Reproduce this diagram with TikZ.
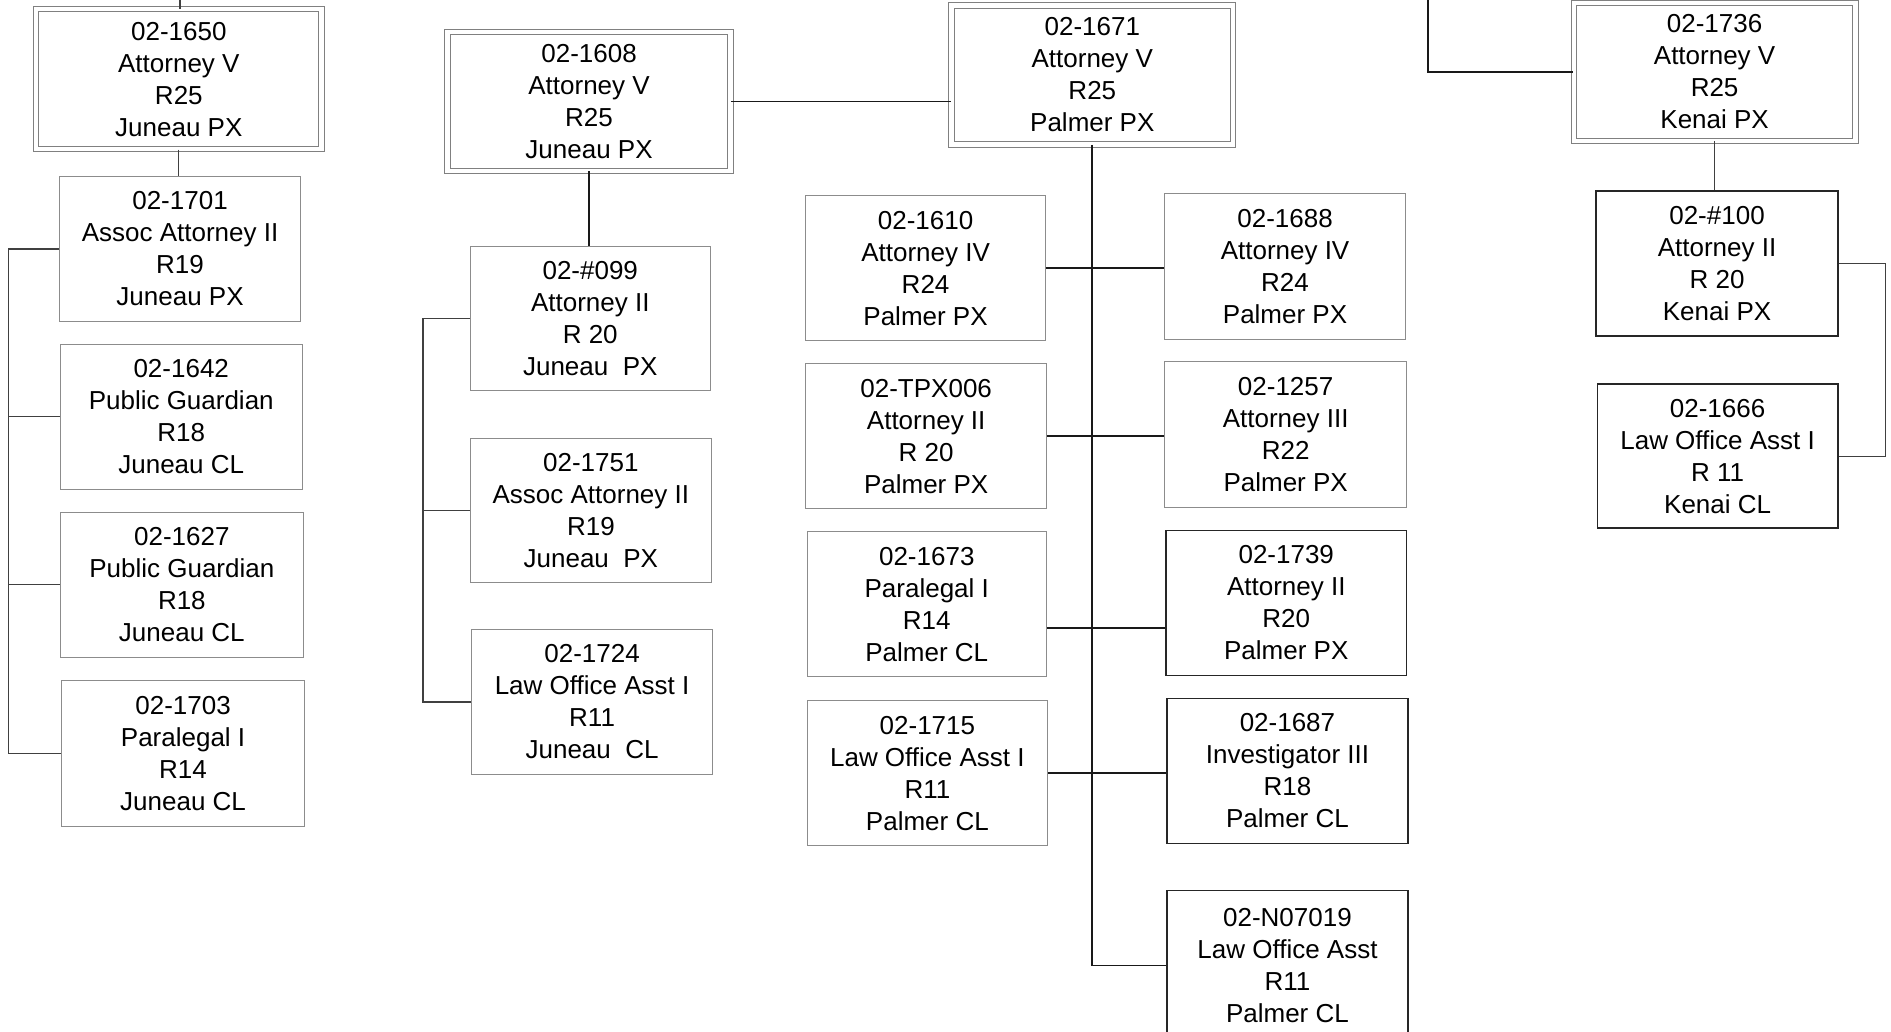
\documentclass[tikz,border=0pt]{standalone}
\usepackage{fontspec}
\setmainfont{Liberation Sans}

\begin{document}
\begin{tikzpicture}[x=0.6042pt,y=-0.6042pt]

\tikzset{post/.style = {shape=rectangle, align=center, inner sep=0pt, font=\fontsize{13}{16}\selectfont}}
\tikzset{dim/.style 2 args = {minimum width=#1*0.6042pt, minimum height=#2*0.6042pt}}
\tikzset{lead/.style = {post, draw=black!50, line width=0.5pt, double=white, double distance=2.2pt}}
\tikzset{staff/.style = {post, draw=black!45, line width=0.5pt}}
\tikzset{solidbox/.style = {post, draw=black!85, line width=0.8pt}}
\tikzset{link/.style = {draw=black!90, line width=0.9pt}}
\tikzset{thinlink/.style = {draw=black!75, line width=0.6pt}}

\useasboundingbox (0,0) rectangle (1565,853.3);

%juneau column
\node[lead, dim={236}{116}] (p1650) at (148,65.5) {02-1650\\Attorney V\\R25\\Juneau PX};
\node[staff, dim={200}{120}] (p1701) at (149,206) {02-1701\\Assoc Attorney II\\R19\\Juneau PX};
\node[staff, dim={200}{120}] (p1642) at (150,345) {02-1642\\Public Guardian\\R18\\Juneau CL};
\node[staff, dim={201}{120}] (p1627) at (150.5,484) {02-1627\\Public Guardian\\R18\\Juneau CL};
\node[staff, dim={201}{121}] (p1703) at (151.5,623.5) {02-1703\\Paralegal I\\R14\\Juneau CL};

%second juneau column
\node[lead, dim={234}{115}] (p1608) at (487.5,84) {02-1608\\Attorney V\\R25\\Juneau PX};
\node[staff, dim={199}{119}] (p099) at (488.5,263.5) {02-\#099\\Attorney II\\R 20\\Juneau~~PX};
\node[staff, dim={200}{119}] (p1751) at (489,422.5) {02-1751\\Assoc Attorney II\\R19\\Juneau~~PX};
\node[staff, dim={200}{120}] (p1724) at (490,581) {02-1724\\Law Office Asst I\\R11\\Juneau~~CL};

%palmer
\node[lead, dim={233}{115}] (p1671) at (904,62) {02-1671\\Attorney V\\R25\\Palmer PX};
\node[staff, dim={198}{120}] (p1610) at (766,222) {02-1610\\Attorney IV\\R24\\Palmer PX};
\node[staff, dim={199}{121}] (p1688) at (1063.5,220.5) {02-1688\\Attorney IV\\R24\\Palmer PX};
\node[staff, dim={199}{120}] (pTPX006) at (766.5,361) {02-TPX006\\Attorney II\\R 20\\Palmer PX};
\node[staff, dim={200}{121}] (p1257) at (1064,359.5) {02-1257\\Attorney III\\R22\\Palmer PX};
\node[staff, dim={198}{120}] (p1673) at (767,500) {02-1673\\Paralegal I\\R14\\Palmer CL};
\node[solidbox, dim={199}{120}] (p1739) at (1064.5,499) {02-1739\\Attorney II\\R20\\Palmer PX};
\node[staff, dim={199}{120}] (p1715) at (767.5,640) {02-1715\\Law Office Asst I\\R11\\Palmer CL};
\node[solidbox, dim={199}{120}] (p1687) at (1065.5,638) {02-1687\\Investigator III\\R18\\Palmer CL};
\node[solidbox, dim={199}{124}] (pN07019) at (1065.5,799) {02-N07019\\Law Office Asst\\R11\\Palmer CL};

%kenai
\node[lead, dim={233}{114}] (p1736) at (1419,59.5) {02-1736\\Attorney V\\R25\\Kenai PX};
\node[solidbox, dim={200}{120}] (p100) at (1421,218) {02-\#100\\Attorney II\\R 20\\Kenai PX};
\node[solidbox, dim={199}{119}] (p1666) at (1421.5,377.5) {02-1666\\Law Office Asst I\\R 11\\Kenai CL};

%lines
\coordinate (t1) at (149,0);
\coordinate (b1) at (7,0);
\draw[thinlink] (t1) -- (t1 |- p1650.north);
\draw[thinlink] (p1650.south) -- (p1650.south |- p1701.north);
\draw[thinlink] (p1701.west) -- (b1 |- p1701.west) |- (p1703.west);
\draw[thinlink] (b1 |- p1642.west) -- (p1642.west);
\draw[thinlink] (b1 |- p1627.west) -- (p1627.west);

\coordinate (b2) at (350,0);
\draw[link] (p1608.south) -- (p1608.south |- p099.north);
\draw[thinlink] (p099.west) -- (b2 |- p099.west) |- (p1724.west);
\draw[thinlink] (b2 |- p1751.west) -- (p1751.west);
\draw[link] (p1608.east) -- (p1608.east -| p1671.west);

\draw[link] (p1671.south) -- (p1671.south |- pN07019.west) -- (pN07019.west);
\draw[link] (p1610.east) -- (p1610.east -| p1688.west);
\draw[link] (pTPX006.east) -- (pTPX006.east -| p1257.west);
\draw[link] ([yshift=-12pt]p1673.east) -- ([yshift=-12pt]p1673.east -| p1739.west);
\draw[link] (p1715.east) -- (p1715.east -| p1687.west);

\coordinate (t4) at (1182,0);
\draw[link] (t4) |- (p1736.west);
\draw[thinlink] (p1736.south) -- (p1736.south |- p100.north);
\draw[thinlink] (p100.east) -- ++(39,0) |- (p1666.east);

\end{tikzpicture}
\end{document}
